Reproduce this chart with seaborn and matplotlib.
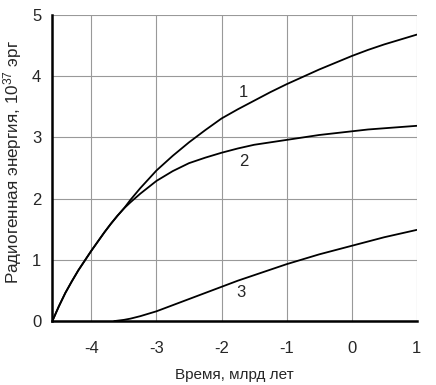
import matplotlib
matplotlib.use("Agg")
import matplotlib.pyplot as plt
from matplotlib.ticker import MultipleLocator
import seaborn as sns
import pandas as pd

# common rising part of curves 1 and 2 (time, billion years -> energy, 1e37 erg)
t12 = [-4.6, -4.5, -4.4, -4.3, -4.2, -4.1, -4.0, -3.9, -3.8, -3.7, -3.6, -3.5]
e12 = [0.0, 0.24, 0.46, 0.65, 0.83, 0.99, 1.15, 1.3, 1.45, 1.59, 1.72, 1.84]

t1 = [-3.4, -3.25, -3.0, -2.75, -2.5, -2.25, -2.0, -1.75, -1.5, -1.25, -1.0,
      -0.75, -0.5, -0.25, 0.0, 0.25, 0.5, 0.75, 1.0]
e1 = [1.98, 2.17, 2.46, 2.7, 2.92, 3.12, 3.31, 3.46, 3.6, 3.74, 3.87,
      3.99, 4.11, 4.22, 4.33, 4.43, 4.52, 4.6, 4.68]

t2 = [-3.4, -3.25, -3.0, -2.75, -2.5, -2.25, -2.0, -1.75, -1.5, -1.25, -1.0,
      -0.75, -0.5, -0.25, 0.0, 0.25, 0.5, 0.75, 1.0]
e2 = [1.94, 2.08, 2.29, 2.45, 2.58, 2.67, 2.75, 2.82, 2.88, 2.92, 2.96,
      3.0, 3.04, 3.07, 3.1, 3.13, 3.15, 3.17, 3.19]

t3 = [-3.65, -3.5, -3.4, -3.25, -3.0, -2.75, -2.5, -2.25, -2.0, -1.75, -1.5,
      -1.25, -1.0, -0.75, -0.5, -0.25, 0.0, 0.25, 0.5, 0.75, 1.0]
e3 = [0.0, 0.02, 0.04, 0.08, 0.16, 0.26, 0.36, 0.46, 0.56, 0.66, 0.75,
      0.84, 0.93, 1.01, 1.09, 1.16, 1.23, 1.3, 1.37, 1.43, 1.49]

labels = ["1", "2", "3"]
label_x = [-1.67, -1.66, -1.7]
label_y = [3.74, 2.6, 0.47]

df = pd.concat([
    pd.DataFrame({"t": t12 + t1, "e": e12 + e1, "curve": "1"}),
    pd.DataFrame({"t": t12 + t2, "e": e12 + e2, "curve": "2"}),
    pd.DataFrame({"t": t3, "e": e3, "curve": "3"}),
])

sns.set_style("white")
plt.rcParams['font.family'] = ['Liberation Sans', 'DejaVu Sans']
plt.rcParams['mathtext.fontset'] = 'custom'
plt.rcParams['mathtext.rm'] = 'Liberation Sans'
plt.rcParams['mathtext.it'] = 'Liberation Sans'
plt.rcParams['axes.unicode_minus'] = False

fig = plt.figure(figsize=(4.36, 3.85), dpi=100)
ax = fig.add_axes([0.12, 0.166, 0.836, 0.795])

sns.lineplot(data=df, x="t", y="e", hue="curve", units="curve", estimator=None,
             palette=["black"] * 3, linewidth=1.3, legend=False, sort=False, ax=ax)

for lab, lx, ly in zip(labels, label_x, label_y):
    ax.text(lx, ly, lab, fontsize=12, ha="center", va="center")

ax.set_xlim(-4.6, 1)
ax.set_ylim(0, 5)
ax.xaxis.set_major_locator(MultipleLocator(1))
ax.yaxis.set_major_locator(MultipleLocator(1))
ax.yaxis.set_minor_locator(MultipleLocator(0.5))
ax.grid(True, which="major", color="#999999", linewidth=0.8)
ax.set_axisbelow(True)

for s in ["top", "right"]:
    ax.spines[s].set_visible(False)
for s in ["left", "bottom"]:
    ax.spines[s].set_linewidth(1.8)
    ax.spines[s].set_color("black")

ax.tick_params(axis="both", which="both", direction="out", length=5, width=1.8,
               color="black", labelsize=12)
ax.tick_params(axis="x", pad=9)
ax.tick_params(axis="y", pad=3)

ax.set_xlabel("Время, млрд лет", fontsize=11, labelpad=9)
ax.set_ylabel("Радиогенная энергия, 10$^{37}$ эрг", fontsize=12.3)
ax.yaxis.set_label_coords(-0.077, 0.52)

fig.savefig("out.png", dpi=100)
